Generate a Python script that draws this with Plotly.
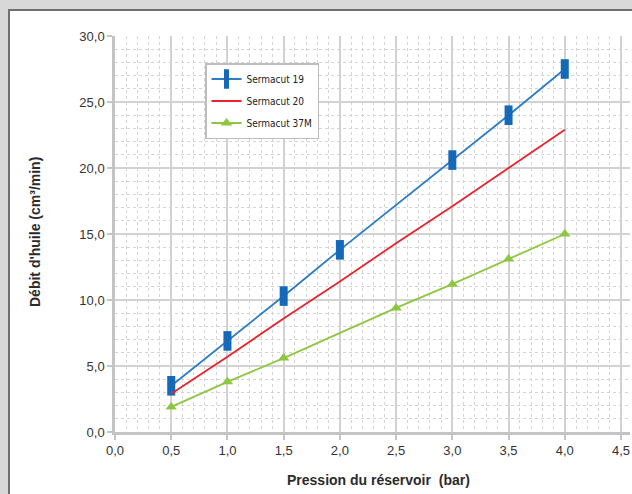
import plotly.graph_objects as go

# Data
x_s19 = [0.5, 1.0, 1.5, 2.0, 3.0, 3.5, 4.0]
y_s19 = [3.5, 6.9, 10.3, 13.8, 20.6, 24.0, 27.5]

x_s20 = [0.5, 1.0, 1.5, 2.0, 2.5, 3.0, 3.5, 4.0]
y_s20 = [2.9, 5.7, 8.6, 11.4, 14.3, 17.1, 20.0, 22.9]

x_s37 = [0.5, 1.0, 1.5, 2.5, 3.0, 3.5, 4.0]
y_s37 = [1.9, 3.8, 5.6, 9.4, 11.2, 13.1, 15.0]

x_ticks = [0, 0.5, 1.0, 1.5, 2.0, 2.5, 3.0, 3.5, 4.0, 4.5]
y_ticks = [0, 5, 10, 15, 20, 25, 30]

W, H = 632, 494
L, R, T, B = 115, 2, 36, 62
pw, ph = W - L - R, H - T - B

def px_x(p):
    return (p - L) / pw

def px_y(p):
    return (H - B - p) / ph

fig = go.Figure()

fig.add_trace(go.Scatter(
    x=x_s19, y=y_s19, name="Sermacut 19", mode="lines+markers", legendgroup="a",
    line=dict(color="#2a7cc6", width=1.8),
    marker=dict(symbol="line-ns", size=14, color="#1569b8",
                line=dict(color="#1569b8", width=8)),
))
fig.add_trace(go.Scatter(
    x=x_s20, y=y_s20, name="Sermacut 20", mode="lines", legendgroup="b",
    line=dict(color="#e8232b", width=1.8),
))
fig.add_trace(go.Scatter(
    x=x_s37, y=y_s37, name="Sermacut 37M", mode="lines+markers", legendgroup="c",
    line=dict(color="#8dc63f", width=1.8),
    marker=dict(symbol="triangle-up", size=10, color="#8dc63f"),
))

axis_common = dict(
    showgrid=True, gridcolor="#d2d2d2", gridwidth=1.5, automargin=False,
    zeroline=False, showline=True, linecolor="#c4c4c4", linewidth=2.5,
    ticks="outside", ticklen=5, tickcolor="#c4c4c4", tickwidth=1.5,
    tickfont=dict(family="Liberation Sans, Arial, sans-serif", size=13, color="#333333"),
    tickformat=".1f", ticklabeloverflow="allow",
)

fig.update_xaxes(
    range=[0, 4.58], tickvals=x_ticks, **axis_common,
    minor=dict(dtick=0.1, showgrid=True, gridcolor="#d4d4d4", griddash="3px,3px", gridwidth=1),
)
fig.update_yaxes(
    range=[0, 30], tickvals=y_ticks, **axis_common,
    minor=dict(dtick=1, showgrid=True, gridcolor="#d4d4d4", griddash="3px,3px", gridwidth=1),
)

title_font = dict(family="Liberation Sans, Arial, sans-serif", size=14, color="#2b2b2b", weight="bold")
fig.add_annotation(text="Pression du réservoir  (bar)", xref="paper", yref="paper",
                   x=px_x(378), y=px_y(480), xanchor="center", yanchor="middle",
                   showarrow=False, font=title_font)
fig.add_annotation(text="Débit d'huile (cm³/min)", xref="paper", yref="paper",
                   x=px_x(35), y=px_y(232), xanchor="center", yanchor="middle",
                   showarrow=False, font=title_font, textangle=-90)

# white panel over a grey backdrop
fig.add_shape(type="rect", xref="paper", yref="paper", layer="below",
              x0=px_x(9), x1=px_x(640), y0=px_y(500), y1=px_y(10),
              fillcolor="white", line=dict(color="#6f6f6f", width=2))

fig.update_layout(
    width=W, height=H,
    margin=dict(l=L, r=R, t=T, b=B, autoexpand=False),
    paper_bgcolor="#d8d8d8", plot_bgcolor="rgba(0,0,0,0)",
    separators=", ",
    legend=dict(
        x=px_x(205), y=px_y(63), xanchor="left", yanchor="top",
        bgcolor="white", bordercolor="#bdbdbd", borderwidth=1.5,
        font=dict(family="DejaVu Sans Condensed, Liberation Sans Narrow, Arial Narrow, sans-serif",
                  size=10, color="#222222"),
        tracegroupgap=3, itemwidth=30,
    ),
    showlegend=True,
)

fig.write_html(
    "out.html",
    config={"displayModeBar": False},
    post_script="document.body.style.margin='0';document.body.style.padding='0';"
                "document.body.style.overflow='hidden';",
)
